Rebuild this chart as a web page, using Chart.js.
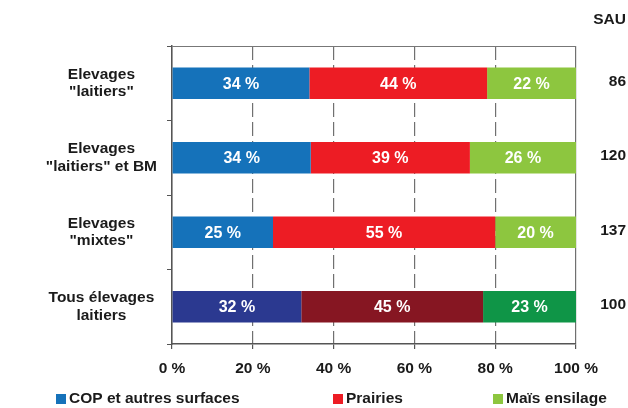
<!DOCTYPE html>
<html>
<head>
<meta charset="utf-8">
<script src="https://cdn.jsdelivr.net/npm/chart.js@4"></script>
<style>
  html, body { margin: 0; padding: 0; background: #fff; }
  canvas { display: block; }
</style>
</head>
<body>
<canvas id="graph" width="628" height="408"></canvas>
<script>
// Données
const categories = [
  ['Elevages', '"laitiers"'],
  ['Elevages', '"laitiers" et BM'],
  ['Elevages', '"mixtes"'],
  ['Tous élevages', 'laitiers']
];
const seriesNames = ['COP et autres surfaces', 'Prairies', 'Maïs ensilage'];
const cop = [34, 34, 25, 32];
const prairies = [44, 39, 55, 45];
const mais = [22, 26, 20, 23];
const sau = [86, 120, 137, 100];
const xTicks = [0, 20, 40, 60, 80, 100];

// couleurs : 3 premières lignes claires, dernière ligne foncée
const colors = [
  ['#1572ba', '#2b3990'],
  ['#ed1c24', '#861622'],
  ['#8dc63f', '#0f9547']
];
const legendX = [56, 333, 493];
const FONT = 'Liberation Sans, Arial, sans-serif';

const raw = [cop, prairies, mais];
const totals = categories.map((c, i) => cop[i] + prairies[i] + mais[i]);

const datasets = raw.map((vals, s) => ({
  label: seriesNames[s],
  data: vals.map((v, i) => v / totals[i] * 100),
  backgroundColor: categories.map((c, i) => i === categories.length - 1 ? colors[s][1] : colors[s][0]),
  borderWidth: 0,
  categoryPercentage: 1,
  barPercentage: 0.42
}));

// étiquettes blanches dans les barres
const barLabels = {
  id: 'barLabels',
  afterDatasetsDraw(chart) {
    const ctx = chart.ctx;
    ctx.save();
    ctx.font = 'bold 16px ' + FONT;
    ctx.fillStyle = '#fff';
    ctx.textAlign = 'center';
    ctx.textBaseline = 'middle';
    chart.data.datasets.forEach((ds, s) => {
      chart.getDatasetMeta(s).data.forEach((bar, i) => {
        ctx.fillText(raw[s][i] + ' %', (bar.x + bar.base) / 2, bar.y + 1);
      });
    });
    ctx.restore();
  }
};

// colonne SAU + légende
const extras = {
  id: 'extras',
  afterDraw(chart) {
    const ctx = chart.ctx;
    const y = chart.scales.y;
    ctx.save();
    ctx.font = 'bold 15.5px ' + FONT;
    ctx.fillStyle = '#1a1a1a';
    ctx.textAlign = 'right';
    ctx.textBaseline = 'middle';
    ctx.fillText('SAU', 626, 20);
    sau.forEach((v, i) => {
      ctx.fillText(String(v), 626, y.getPixelForValue(i) - 2);
    });

    ctx.textAlign = 'left';
    seriesNames.forEach((name, s) => {
      const x = legendX[s];
      ctx.fillStyle = colors[s][0];
      ctx.fillRect(x, 394, 10, 10);
      ctx.fillStyle = '#1a1a1a';
      ctx.fillText(name, x + 13, 399);
    });
    ctx.restore();
  }
};

new Chart(document.getElementById('graph'), {
  type: 'bar',
  data: { labels: categories, datasets: datasets },
  options: {
    indexAxis: 'y',
    responsive: false,
    animation: false,
    layout: { padding: { top: 46, right: 52, bottom: 0, left: 0 } },
    plugins: {
      legend: { display: false },
      tooltip: { enabled: false }
    },
    scales: {
      x: {
        stacked: true,
        min: 0,
        max: 100,
        afterBuildTicks: (scale) => { scale.ticks = xTicks.map(v => ({ value: v })); },
        afterFit: (scale) => { scale.height = 64; },
        ticks: {
          callback: (v) => v + ' %',
          font: { family: FONT, size: 15.5, weight: 'bold', lineHeight: 1.2 },
          color: '#1a1a1a',
          padding: 10,
          maxRotation: 0
        },
        grid: {
          color: '#707070',
          lineWidth: 1.2,
          tickLength: 5,
          tickColor: '#555'
        },
        border: {
          color: '#555',
          width: 1.5,
          dash: (c) => (c.tick && c.tick.value > 0 && c.tick.value < 100) ? [14, 5] : []
        }
      },
      y: {
        stacked: true,
        afterFit: (scale) => { scale.width = 172; },
        ticks: {
          font: { family: FONT, size: 15.5, weight: 'bold', lineHeight: 1.13 },
          color: '#1a1a1a',
          crossAlign: 'center',
          padding: 10
        },
        grid: {
          offset: true,
          color: (c) => c.index === 0 ? '#777' : 'rgba(0,0,0,0)',
          tickLength: 5,
          tickColor: '#555'
        },
        border: { color: '#555', width: 1.5 }
      }
    }
  },
  plugins: [barLabels, extras]
});
</script>
</body>
</html>
